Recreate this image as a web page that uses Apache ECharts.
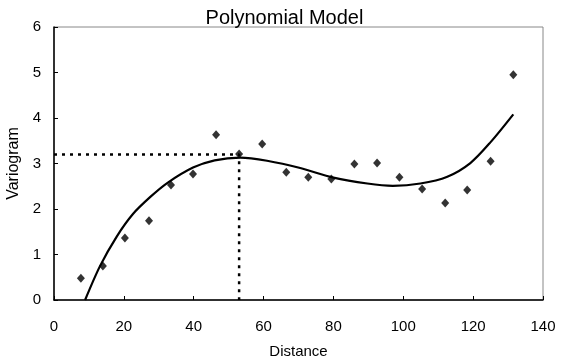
<!DOCTYPE html>
<html>
<head>
<meta charset="utf-8">
<script src="https://cdn.jsdelivr.net/npm/echarts@6/dist/echarts.min.js"></script>
<style>
  html, body { margin: 0; padding: 0; background: #fff; }
  #chart { width: 569px; height: 361px; }
</style>
</head>
<body>
<div id="chart"></div>
<script>
// observed variogram points [distance, value]
const obsDistance = [7.7, 14.0, 20.3, 27.2, 33.5, 39.8, 46.4, 53.0, 59.6, 66.5, 72.8, 79.4, 86.0, 92.5, 98.9, 105.4, 112.0, 118.3, 125.0, 131.5];
const obsValue = [0.48, 0.75, 1.36, 1.74, 2.53, 2.77, 3.63, 3.21, 3.43, 2.81, 2.70, 2.66, 2.99, 3.01, 2.70, 2.44, 2.13, 2.42, 3.05, 4.95];

// fitted polynomial model
const fitDistance = [8.9, 13.2, 18.0, 22.6, 27.5, 32.4, 39.8, 46.0, 53.3, 61.0, 70.5, 80.0, 89.7, 97.0, 104.9, 112.6, 119.2, 125.0, 131.5];
const fitValue = [0, 0.75, 1.40, 1.89, 2.26, 2.57, 2.91, 3.07, 3.13, 3.06, 2.90, 2.69, 2.56, 2.51, 2.56, 2.71, 3.01, 3.47, 4.08];

// range marker (sill at 3.2, range at 53)
const rangeX = [0, 53, 53];
const rangeY = [3.2, 3.2, 0];

const xTicks = [0, 140, 20];
const yTicks = [0, 6, 1];

const myChart = echarts.init(document.getElementById('chart'));
const font = 'Liberation Sans, Arial, sans-serif';

const option = {
  animation: false,
  title: {
    text: 'Polynomial Model',
    left: 'center',
    top: 3,
    textStyle: { fontFamily: font, fontSize: 20, fontWeight: 'normal', color: '#000' }
  },
  grid: {
    left: 54, right: 26, top: 27, bottom: 61,
    containLabel: false, outerBoundsMode: 'none',
    show: true, borderColor: '#888', borderWidth: 1
  },
  xAxis: {
    type: 'value',
    min: xTicks[0], max: xTicks[1], interval: xTicks[2],
    name: 'Distance',
    nameLocation: 'middle',
    nameGap: 44,
    nameTextStyle: { fontFamily: font, fontSize: 15, color: '#000' },
    axisLine: { show: true, lineStyle: { color: '#000', width: 1.5 } },
    axisTick: { show: true, inside: true, length: 4, lineStyle: { color: '#000' } },
    axisLabel: { fontFamily: font, fontSize: 15, color: '#000', margin: 19 },
    splitLine: { show: false }
  },
  yAxis: {
    type: 'value',
    min: yTicks[0], max: yTicks[1], interval: yTicks[2],
    name: 'Variogram',
    nameLocation: 'middle',
    nameGap: 30,
    nameTextStyle: { fontFamily: font, fontSize: 16, color: '#000' },
    axisLine: { show: true, lineStyle: { color: '#000', width: 1.5 } },
    axisTick: { show: true, inside: true, length: 4, lineStyle: { color: '#000' } },
    axisLabel: { fontFamily: font, fontSize: 15, color: '#000', margin: 13 },
    splitLine: { show: false }
  },
  series: [
    {
      type: 'line',
      data: rangeX.map((x, i) => [x, rangeY[i]]),
      showSymbol: false,
      lineStyle: { color: '#000', width: 2.5, type: [3, 5] },
      z: 1
    },
    {
      type: 'line',
      data: fitDistance.map((x, i) => [x, fitValue[i]]),
      smooth: 0.3,
      showSymbol: false,
      lineStyle: { color: '#000', width: 2.2 },
      z: 2
    },
    {
      type: 'scatter',
      data: obsDistance.map((x, i) => [x, obsValue[i]]),
      symbol: 'diamond',
      symbolSize: [8, 9],
      itemStyle: { color: '#000' },
      z: 3
    }
  ]
};
myChart.setOption(option);
</script>
</body>
</html>
